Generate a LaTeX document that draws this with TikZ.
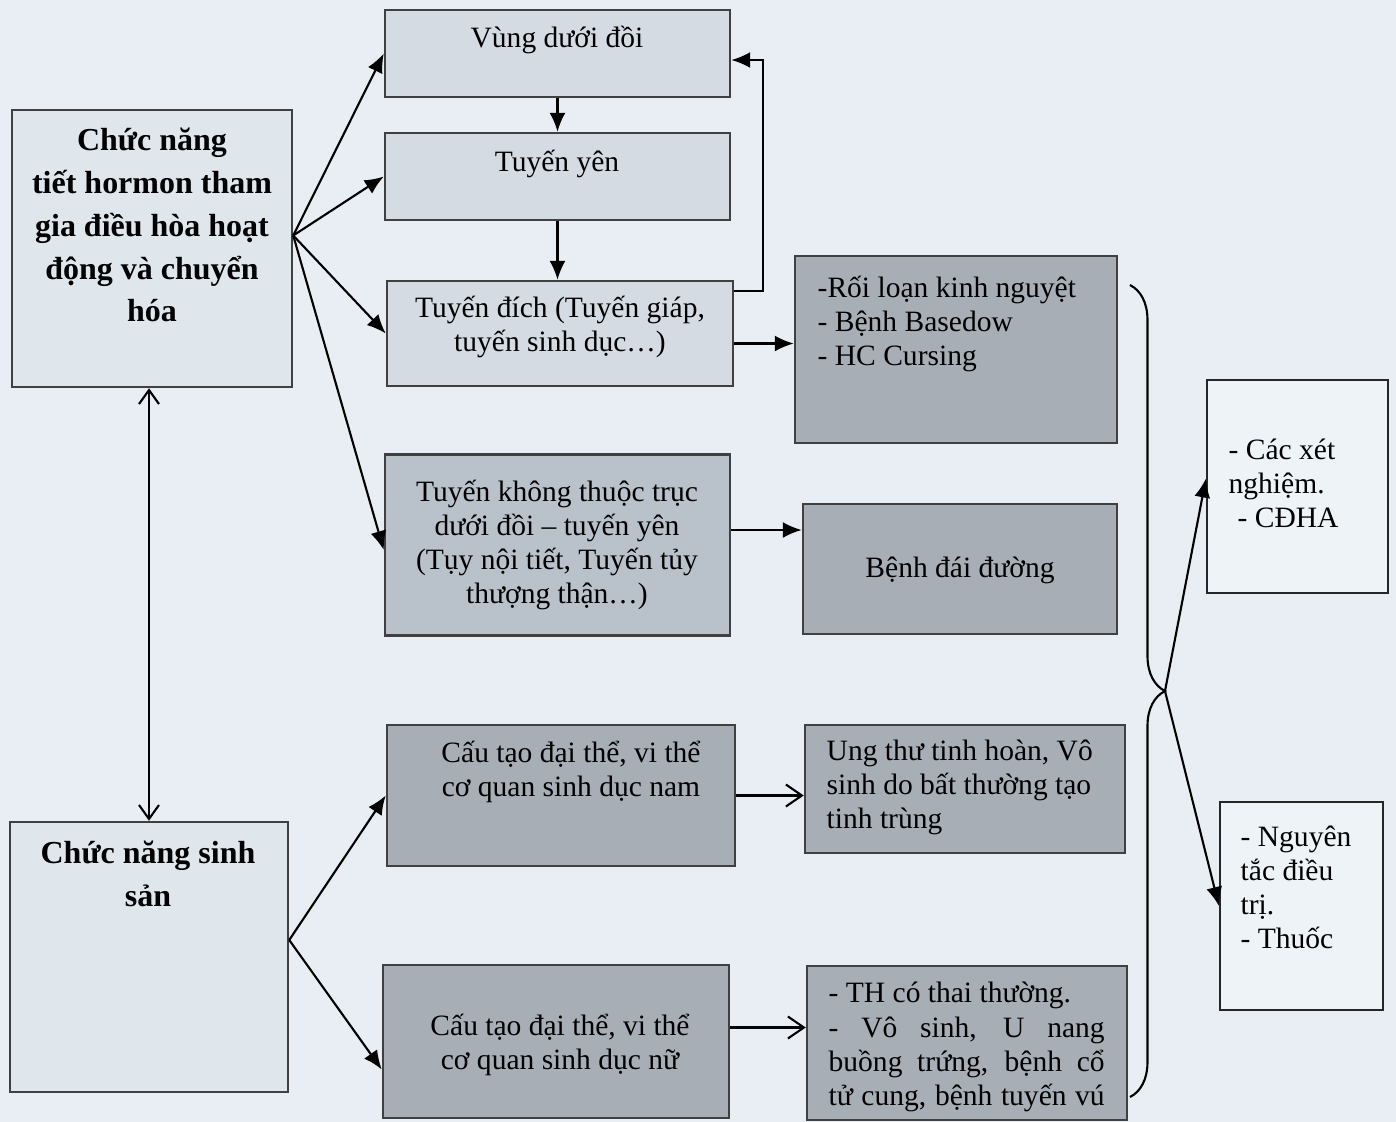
\documentclass[tikz,border=0pt]{standalone}
\usepackage{fontspec}
\setmainfont{Liberation Serif}
\usepackage{tikz}
\usetikzlibrary{arrows.meta,positioning,decorations.pathreplacing}
\definecolor{pagebg}{HTML}{E8EEF3}
\definecolor{hormonfill}{HTML}{DFE6EC}
\definecolor{topfill}{HTML}{D5DBE2}
\definecolor{midfill}{HTML}{B9C1CA}
\definecolor{darkfill}{HTML}{A8AEB6}
\definecolor{whitefill}{HTML}{EEF3F7}

\begin{document}
\begin{tikzpicture}[
  box/.style={draw=black!75, line width=0.7pt, inner sep=0pt},
  hbox/.style={box, fill=hormonfill},
  tbox/.style={box, fill=topfill},
  mbox/.style={box, fill=midfill},
  dbox/.style={box, fill=darkfill},
  wbox/.style={draw=black!85, line width=0.6pt, inner sep=0pt, fill=whitefill},
  txt/.style={font=\fontsize{8.4}{9.7}\selectfont, align=center, inner sep=0pt},
  btxt/.style={font=\fontsize{9.1}{12.2}\selectfont\bfseries, align=center, inner sep=0pt},
  arr/.style={-{Latex[length=1.9mm,width=1.6mm]}, line width=0.6pt},
  oarr/.style={-{Straight Barb[length=1.6mm,width=2.2mm]}, line width=0.6pt}]
\fill[pagebg] (0,0) rectangle (13.96,-11.22);

\node[hbox, minimum width=2.80cm, minimum height=2.77cm] (hormon) at (1.52,-2.485) {};
\node[btxt] (hormontxt) at (1.52,-2.25) {Chức năng\\tiết hormon tham\\gia điều hòa hoạt\\động và chuyển\\hóa};
\node[hbox, minimum width=2.78cm, minimum height=2.70cm] (sinhsan) at (1.49,-9.57) {};
\node[btxt] (sinhsantxt) at (1.48,-8.74) {Chức năng sinh\\sản};

\node[tbox, minimum width=3.45cm, minimum height=0.87cm] (vung) at (5.575,-0.535) {};
\node[txt] (vungtxt) at (5.57,-0.40) {Vùng dưới đồi};
\node[tbox, minimum width=3.45cm, minimum height=0.87cm] (yen) at (5.575,-1.765) {};
\node[txt] (yentxt) at (5.57,-1.64) {Tuyến yên};
\node[tbox, minimum width=3.46cm, minimum height=1.05cm] (dich) at (5.60,-3.335) {};
\node[txt] (dichtxt) at (5.60,-3.27) {Tuyến đích (Tuyến giáp,\\tuyến sinh dục…)};
\node[mbox, minimum width=3.45cm, minimum height=1.81cm] (khong) at (5.575,-5.45) {};
\node[txt] (khongtxt) at (5.57,-5.45) {Tuyến không thuộc trục\\dưới đồi – tuyến yên\\(Tụy nội tiết, Tuyến tủy\\thượng thận…)};
\node[dbox, minimum width=3.48cm, minimum height=1.41cm] (nam) at (5.61,-7.955) {};
\node[txt] (namtxt) at (5.71,-7.72) {Cấu tạo đại thể, vi thể\\cơ quan sinh dục nam};
\node[dbox, minimum width=3.46cm, minimum height=1.53cm] (nu) at (5.56,-10.415) {};
\node[txt] (nutxt) at (5.60,-10.45) {Cấu tạo đại thể, vi thể\\cơ quan sinh dục nữ};

\node[dbox, minimum width=3.22cm, minimum height=1.87cm] (roiloan) at (9.56,-3.495) {};
\node[txt, align=left, anchor=west] (roiloantxt) at (8.17,-3.24) {-Rối loạn kinh nguyệt\\- Bệnh Basedow\\- HC Cursing};
\node[dbox, minimum width=3.14cm, minimum height=1.30cm] (daiduong) at (9.60,-5.69) {};
\node[txt] (daiduongtxt) at (9.60,-5.70) {Bệnh đái đường};
\node[dbox, minimum width=3.20cm, minimum height=1.28cm] (ungthu) at (9.65,-7.89) {};
\node[txt, align=left, anchor=west] (ungthutxt) at (8.26,-7.87) {Ung thư tinh hoàn, Vô\\sinh do bất thường tạo\\tinh trùng};
\node[dbox, minimum width=3.20cm, minimum height=1.54cm] (th) at (9.67,-10.43) {};
\node[txt, align=left, anchor=west] (thtxt) at (8.28,-10.47) {- TH có thai thường.\\\makebox[2.76cm][s]{- Vô sinh, U nang}\\\makebox[2.76cm][s]{buồng trứng, bệnh cổ}\\\makebox[2.76cm][s]{tử cung, bệnh tuyến vú}};

\node[wbox, minimum width=1.81cm, minimum height=2.13cm] (xet) at (12.975,-4.865) {};
\node[txt, align=left, anchor=west] (xettxt) at (12.28,-4.83) {- Các xét\\nghiệm.\\\hspace{0.09cm}- CĐHA};
\node[wbox, minimum width=1.63cm, minimum height=2.08cm] (nguyen) at (13.015,-9.06) {};
\node[txt, align=left, anchor=west] (nguyentxt) at (12.40,-8.87) {- Nguyên\\tắc điều\\trị.\\- Thuốc};

\coordinate (hsrc) at ([yshift=1.3mm]hormon.east);
\draw[arr] (hsrc) -- (vung.west);
\draw[arr] (hsrc) -- (yen.west);
\draw[arr] (hsrc) -- (dich.west);
\draw[arr] (hsrc) -- ([yshift=-0.5mm]khong.west);
\draw[arr] (vung.south) -- (yen.north);
\draw[arr] (yen.south) -- (yen.south |- dich.north);
\coordinate (fbstart) at ([yshift=-1.1mm]dich.north east);
\coordinate (fb) at (7.63,-0.60);
\draw[arr] (fbstart) -| (fb) -- (fb -| vung.east);
\coordinate (d1) at ([yshift=-1mm]dich.east);
\draw[arr] (d1) -- (d1 -| roiloan.west);
\coordinate (k1) at ([yshift=1.5mm]khong.east);
\draw[arr] (k1) -- (k1 -| daiduong.west);

\draw[{Straight Barb[length=1.4mm,width=2mm]}-{Straight Barb[length=1.4mm,width=2mm]}, line width=0.6pt] (hormon.south -| sinhsan.north) -- (sinhsan.north);

\coordinate (ssrc) at ([yshift=1.7mm]sinhsan.east);
\draw[arr] (ssrc) -- (nam.west);
\draw[arr] (ssrc) -- ([yshift=-2.8mm]nu.west);
\draw[oarr] (nam.east) -- (nam.east -| ungthu.west);
\coordinate (n1) at ([yshift=1.4mm]nu.east);
\draw[oarr] (n1) -- (n1 -| th.west);

\coordinate (brtop) at (11.30,-2.85);
\coordinate (brbot) at (11.30,-10.97);
\coordinate (tip) at (11.65,-6.91);
\draw[line width=0.6pt, decorate, decoration={brace, amplitude=0.35cm}] (brtop) -- (brbot);
\draw[arr] (tip) -- ([yshift=0.8mm]xet.west);
\draw[arr] (tip) -- (nguyen.west);
\end{tikzpicture}
\end{document}
